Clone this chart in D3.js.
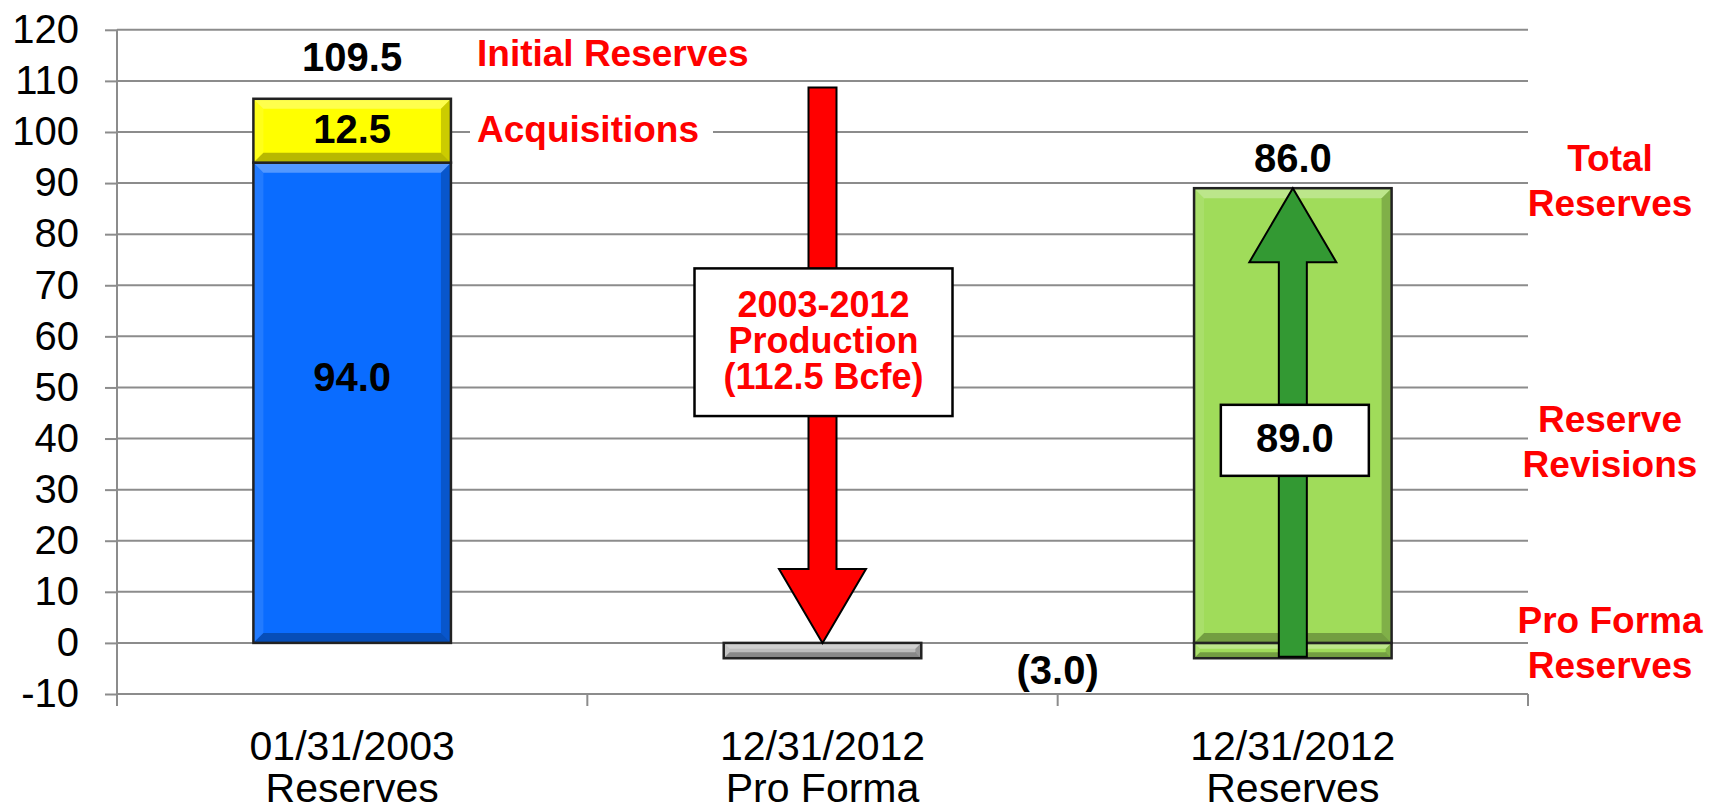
<!DOCTYPE html>
<html>
<head>
<meta charset="utf-8">
<script src="https://cdn.jsdelivr.net/npm/d3@7"></script>
<style>
  html, body { margin: 0; padding: 0; background: #fff; }
  svg { display: block; font-family: "Liberation Sans", Arial, sans-serif; }
</style>
</head>
<body>
<svg id="chart" width="1711" height="811"></svg>
<script>
// categories (two text lines each)
const catLine1 = ['01/31/2003', '12/31/2012', '12/31/2012'];
const catLine2 = ['Reserves', 'Pro Forma', 'Reserves'];
const yTicks = [-10, 0, 10, 20, 30, 40, 50, 60, 70, 80, 90, 100, 110, 120];

// stacked segments
const segCategory = [0, 0, 1, 2, 2];
const segStart = [0, 94, 0, -3, 0];
const segEnd = [94, 106.5, -3, 0, 89];
const segKind = ['base', 'acq', 'proforma', 'revised', 'revised'];

// value labels
const labelText = ['109.5', '12.5', '94.0', '86.0', '(3.0)'];
const labelCat = [0, 0, 0, 2, 1.5];
const labelValue = [114.6, 100.6, 52, 94.9, -5.3];

// arrows (from -> to, head at "to")
const arrowCat = [1, 2];
const arrowFrom = [108.7, -2.7];
const arrowTo = [0, 89];

// callout boxes on arrows
const calloutLines = [['2003-2012', 'Production', '(112.5 Bcfe)'], ['89.0']];
const calloutCat = [1, 2];
const calloutTop = [73.3, 46.6];
const calloutBottom = [44.4, 32.7];

// red annotations
const noteText = ['Initial Reserves', 'Acquisitions'];
const noteValue = [115.4, 100.6];
const sideLines = [['Total', 'Reserves'], ['Reserve', 'Revisions'], ['Pro Forma', 'Reserves']];
const sideValue = [90.5, 39.5, 0];

const kindFill = {base: '#0a6cff', acq: '#ffff00', proforma: '#bdbdbd', revised: '#a0dc5a'};
const arrowFill = ['#ff0000', '#339933'];
const gridColor = '#8c8c8c';

const svg = d3.select('#chart');
const x = d3.scaleBand().domain(d3.range(catLine1.length)).range([117, 1528]);
const y = d3.scaleLinear().domain([-10, 120]).range([694, 29.8]);
const bw = x.bandwidth();
const cx = c => x.range()[0] + (c + 0.5) * bw;
const barW = bw * 0.42;

// gridlines
svg.append('g').selectAll('line').data(yTicks).join('line')
  .attr('x1', x.range()[0]).attr('x2', x.range()[1])
  .attr('y1', d => y(d)).attr('y2', d => y(d))
  .attr('stroke', gridColor).attr('stroke-width', 2);

// y axis
const yAxis = svg.append('g').attr('transform', `translate(${x.range()[0]},0)`)
  .call(d3.axisLeft(y).tickValues(yTicks).tickSize(12).tickPadding(26).tickFormat(d => String(d)));
yAxis.select('.domain').remove();
yAxis.selectAll('line').attr('stroke', gridColor).attr('stroke-width', 2);
yAxis.selectAll('text').attr('font-size', 40).attr('fill', '#000').attr('font-family', '"Liberation Sans", Arial, sans-serif');
svg.append('line').attr('x1', x.range()[0]).attr('x2', x.range()[0])
  .attr('y1', y(120)).attr('y2', y(-10) + 12).attr('stroke', gridColor).attr('stroke-width', 2);

// category ticks at band boundaries
const bounds = d3.range(catLine1.length + 1).map(i => x.range()[0] + i * bw);
svg.append('g').selectAll('line').data(bounds.slice(1)).join('line')
  .attr('x1', d => d).attr('x2', d => d).attr('y1', y(-10)).attr('y2', y(-10) + 12)
  .attr('stroke', gridColor).attr('stroke-width', 2);

// category labels
const catG = svg.append('g').attr('font-size', 41).attr('text-anchor', 'middle').attr('fill', '#000');
catG.selectAll('.l1').data(catLine1).join('text').attr('class', 'l1')
  .attr('x', (d, i) => cx(i)).attr('y', 746).attr('dy', '0.35em').text(d => d);
catG.selectAll('.l2').data(catLine2).join('text').attr('class', 'l2')
  .attr('x', (d, i) => cx(i)).attr('y', 788).attr('dy', '0.35em').text(d => d);

// bevelled bars
function bevel(g, bx, by, w, h, b) {
  b = Math.min(b, h / 2.6);
  const faces = [
    [[bx, by], [bx + w, by], [bx + w - b, by + b], [bx + b, by + b], 'rgba(255,255,255,0.3)'],
    [[bx, by], [bx + b, by + b], [bx + b, by + h - b], [bx, by + h], 'rgba(255,255,255,0.1)'],
    [[bx + w, by], [bx + w - b, by + b], [bx + w - b, by + h - b], [bx + w, by + h], 'rgba(0,0,0,0.2)'],
    [[bx, by + h], [bx + b, by + h - b], [bx + w - b, by + h - b], [bx + w, by + h], 'rgba(0,0,0,0.28)']
  ];
  faces.forEach(f => {
    g.append('polygon').attr('points', f.slice(0, 4).map(p => p.join(',')).join(' ')).attr('fill', f[4]);
  });
}

const barG = svg.append('g');
segCategory.forEach((c, i) => {
  const y0 = Math.min(y(segStart[i]), y(segEnd[i]));
  const h = Math.abs(y(segStart[i]) - y(segEnd[i]));
  const bx = cx(c) - barW / 2;
  barG.append('rect').attr('x', bx).attr('y', y0).attr('width', barW).attr('height', h)
    .attr('fill', kindFill[segKind[i]]);
  bevel(barG, bx, y0, barW, h, 10);
  barG.append('rect').attr('x', bx).attr('y', y0).attr('width', barW).attr('height', h)
    .attr('fill', 'none').attr('stroke', '#222').attr('stroke-width', 2.5);
});

// arrows
const shaftW = 28, headW = 87, headH = 74;
arrowCat.forEach((c, i) => {
  const xc = cx(c);
  const yFrom = y(arrowFrom[i]), yTo = y(arrowTo[i]);
  const dir = yTo > yFrom ? 1 : -1;
  const yBase = yTo - dir * headH;
  const pts = [
    [xc - shaftW / 2, yFrom], [xc + shaftW / 2, yFrom], [xc + shaftW / 2, yBase],
    [xc + headW / 2, yBase], [xc, yTo], [xc - headW / 2, yBase], [xc - shaftW / 2, yBase]
  ];
  svg.append('polygon').attr('points', pts.map(p => p.join(',')).join(' '))
    .attr('fill', arrowFill[i]).attr('stroke', '#000').attr('stroke-width', 2).attr('stroke-linejoin', 'miter');
});

// callout boxes
const calloutW = [258, 148];
const calloutColor = ['#ff0000', '#000'];
calloutCat.forEach((c, i) => {
  const xc = cx(c) + (i === 0 ? 1 : 2);
  const y0 = y(calloutTop[i]), y1 = y(calloutBottom[i]);
  svg.append('rect').attr('x', xc - calloutW[i] / 2).attr('y', y0)
    .attr('width', calloutW[i]).attr('height', y1 - y0)
    .attr('fill', '#fff').attr('stroke', '#000').attr('stroke-width', 2.5);
  const lines = calloutLines[i];
  const lh = 36, mid = (y0 + y1) / 2 - 2;
  svg.append('g').selectAll('text').data(lines).join('text')
    .attr('x', xc).attr('y', (d, k) => mid + (k - (lines.length - 1) / 2) * lh)
    .attr('dy', '0.35em').attr('text-anchor', 'middle')
    .attr('font-size', i === 0 ? 36 : 40).attr('font-weight', 'bold')
    .attr('fill', calloutColor[i]).text(d => d);
});

// value labels
svg.append('g').selectAll('text').data(labelText).join('text')
  .attr('x', (d, i) => cx(labelCat[i])).attr('y', (d, i) => y(labelValue[i]))
  .attr('dy', '0.35em').attr('text-anchor', 'middle')
  .attr('font-size', 40).attr('font-weight', 'bold').attr('fill', '#000').text(d => d);

// left red notes (Acquisitions sits on a white patch over the gridline)
const noteG = svg.append('g');
noteText.forEach((t, i) => {
  const yy = y(noteValue[i]);
  if (i === 1) {
    noteG.append('rect').attr('x', 470).attr('y', yy - 20).attr('width', 243).attr('height', 40).attr('fill', '#fff');
  }
  noteG.append('text').attr('x', 477).attr('y', yy).attr('dy', '0.35em')
    .attr('font-size', 37).attr('font-weight', 'bold').attr('fill', '#ff0000').text(t);
});

// right side red labels
sideLines.forEach((lines, i) => {
  svg.append('g').selectAll('text').data(lines).join('text')
    .attr('x', 1610).attr('y', (d, k) => y(sideValue[i]) + (k - 0.5) * 45)
    .attr('dy', '0.35em').attr('text-anchor', 'middle')
    .attr('font-size', 37).attr('font-weight', 'bold').attr('fill', '#ff0000').text(d => d);
});
</script>
</body>
</html>
